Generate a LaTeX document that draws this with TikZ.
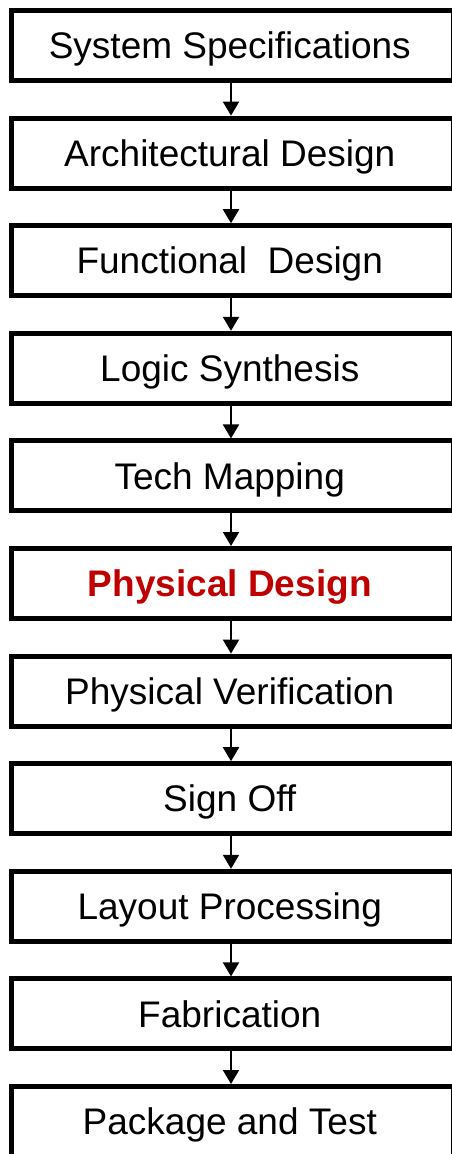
\documentclass[tikz,border=0pt]{standalone}
\usepackage{fontspec}
\setmainfont{Liberation Sans}
\usetikzlibrary{arrows.meta}
\definecolor{hilite}{HTML}{C00000}
\begin{document}
\begin{tikzpicture}[x=1pt,y=-1pt,
  stage/.style={draw=black, line width=5pt, fill=white, rectangle,
    minimum width=442.5pt, minimum height=70pt, inner sep=0pt,
    font=\fontsize{37}{42}\selectfont, text height=26.5pt, text depth=0pt},
  flow/.style={line width=2pt, -{Triangle[width=16pt,length=14pt]}}]
  \useasboundingbox (0,0) rectangle (451,1154);
  \foreach \name/\label [count=\i from 0] in {
      s0/System Specifications,
      s1/Architectural Design,
      s2/Functional\ \ Design,
      s3/Logic Synthesis,
      s4/Tech Mapping,
      s5/{\textcolor{hilite}{\bfseries Physical Design}},
      s6/Physical Verification,
      s7/Sign Off,
      s8/Layout Processing,
      s9/Fabrication,
      s10/Package and Test}
    \node[stage] (\name) at (232.25, 45.5+107.6*\i) {\label\kern5pt};
  \foreach \a/\b in {s0/s1,s1/s2,s2/s3,s3/s4,s4/s5,s5/s6,s6/s7,s7/s8,s8/s9,s9/s10}
    \draw[flow] ([xshift=-1.25pt]\a.south) -- ([xshift=-1.25pt]\b.north);
\end{tikzpicture}
\end{document}
